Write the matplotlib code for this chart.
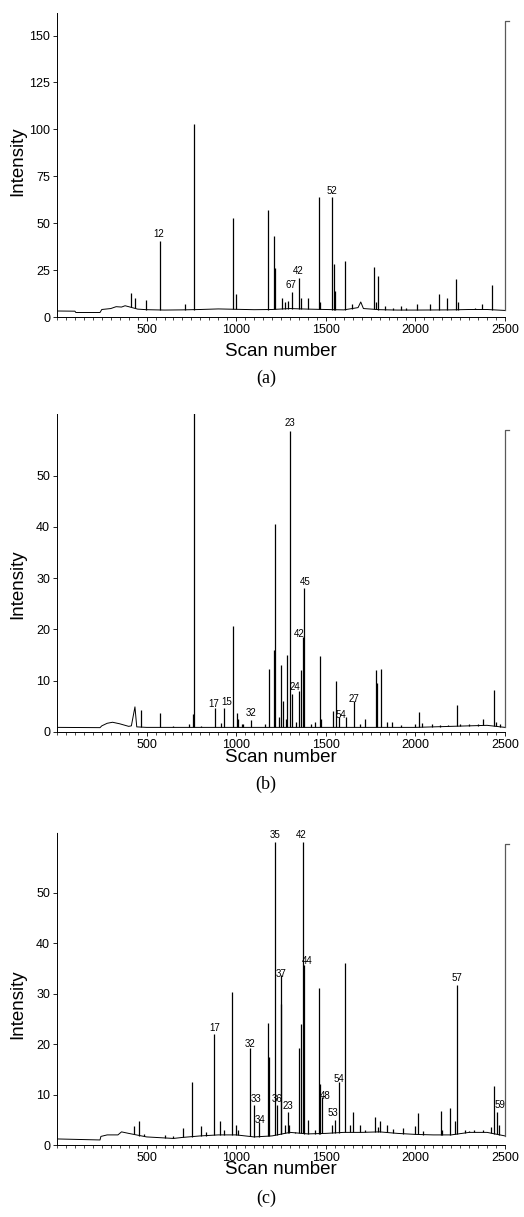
import numpy as np
import matplotlib
matplotlib.use('Agg')
import matplotlib.pyplot as plt
from matplotlib.ticker import MultipleLocator

plt.rcParams['font.family'] = ['Liberation Sans', 'DejaVu Sans']

# ---- panel (a) ----
base_a_x = [0, 100, 105, 240, 250, 300, 330, 360, 380, 400, 450, 500, 600, 700, 800, 900, 1000,
            1100, 1200, 1300, 1400, 1500, 1600, 1680, 1695, 1710, 1800, 1900, 2000, 2200, 2300, 2400, 2500]
base_a_y = [3.2, 3.1, 2.4, 2.4, 4.0, 4.5, 5.5, 5.3, 6.0, 5.5, 4.2, 3.9, 3.7, 3.8, 4.0, 4.3, 4.1,
            3.9, 4.0, 4.5, 4.2, 4.0, 3.8, 5.0, 8.0, 4.5, 3.9, 3.7, 3.7, 3.8, 4.0, 4.0, 3.5]
peak_a_x = [415, 437, 498, 576, 717, 763, 980, 998, 1180, 1213, 1215, 1255, 1275, 1290, 1309, 1350,
            1363, 1401, 1461, 1470, 1537, 1545, 1552, 1605, 1646, 1770, 1780, 1794, 1831, 1875, 1920,
            1950, 2007, 2082, 2130, 2175, 2224, 2240, 2330, 2370, 2426]
peak_a_h = [13, 10, 9, 40.5, 7, 103, 52.5, 12, 57, 43, 26, 10, 8, 8.5, 13.5, 21,
            10, 10, 64, 8, 64, 28, 14, 30, 7, 26.5, 8, 22, 6, 5, 6,
            5, 7, 7, 12, 10, 20, 8, 5, 7, 17]
lab_a = ['12', '67', '42', '52']
lab_a_x = [568, 1306, 1346, 1535]
lab_a_y = [44, 17, 24.6, 67]
yticks_a = [0, 25, 50, 75, 100, 125, 150]

# ---- panel (b) ----
base_b_x = [0, 240, 250, 280, 310, 350, 400, 415, 435, 445, 500, 1000, 1500, 2000, 2300, 2400, 2500]
base_b_y = [0.9, 0.85, 1.2, 1.7, 1.9, 1.6, 1.1, 1.2, 4.9, 1.0, 0.9, 0.9, 0.9, 0.9, 1.2, 1.3, 0.9]
peak_b_x = [467, 574, 645, 700, 735, 760, 766, 805, 879, 915, 934, 984, 1003, 1012, 1030, 1040,
            1082, 1160, 1184, 1210, 1219, 1240, 1252, 1262, 1280, 1285, 1300, 1313, 1335, 1353,
            1362, 1370, 1381, 1420, 1440, 1468, 1475, 1542, 1557, 1575, 1610, 1655, 1690, 1718,
            1780, 1785, 1806, 1843, 1870, 1920, 2000, 2018, 2037, 2090, 2140, 2180, 2234, 2250,
            2300, 2350, 2379, 2438, 2450, 2470]
peak_b_h = [4.3, 3.8, 1.2, 1.0, 1.5, 3.5, 75, 1.2, 4.6, 1.8, 4.6, 20.6, 3.7, 2.5, 1.5, 1.6,
            2.4, 1.5, 12.2, 16, 40.6, 3, 13, 6, 2.5, 15, 58.7, 7.5, 2, 8,
            12, 18.5, 28, 1.5, 2, 14.9, 2.5, 4, 10, 3, 3, 6, 1.5, 2.6,
            12, 9.5, 12.2, 2, 2, 1.3, 1.5, 3.9, 1.8, 1.5, 1.3, 1.4, 5.2, 1.6,
            1.5, 1.6, 2.5, 8.2, 2.0, 1.5]
lab_b = ['23', '45', '42', '24', '17', '15', '32', '54', '27']
lab_b_x = [1300, 1385, 1350, 1326, 872, 945, 1082, 1584, 1655]
lab_b_y = [60.2, 29.2, 19.2, 8.7, 5.4, 5.8, 3.7, 3.4, 6.4]
yticks_b = [0, 10, 20, 30, 40, 50]

# ---- panel (c) ----
base_c_x = [0, 240, 245, 280, 340, 360, 400, 500, 600, 650, 700, 800, 900, 1000, 1100, 1200, 1300,
            1400, 1500, 1600, 1700, 1800, 1900, 2000, 2100, 2200, 2300, 2400, 2500]
base_c_y = [1.2, 1.0, 1.7, 2.0, 2.0, 2.6, 2.3, 1.6, 1.4, 1.3, 1.5, 1.8, 2.0, 2.0, 1.6, 1.8, 2.5,
            2.2, 2.3, 2.5, 2.5, 2.6, 2.3, 2.1, 2.0, 2.0, 2.5, 2.5, 1.8]
peak_c_x = [427, 460, 488, 603, 645, 705, 755, 802, 830, 876, 909, 930, 978, 997, 1010, 1076,
            1098, 1128, 1179, 1183, 1214, 1226, 1248, 1252, 1270, 1289, 1296, 1330, 1351, 1362,
            1370, 1379, 1402, 1440, 1464, 1470, 1478, 1535, 1549, 1572, 1609, 1637, 1650, 1693,
            1720, 1777, 1790, 1805, 1841, 1873, 1929, 2000, 2017, 2040, 2142, 2150, 2192, 2220,
            2234, 2276, 2300, 2326, 2380, 2420, 2441, 2457, 2469]
peak_c_h = [3.8, 4.8, 2.2, 2.0, 1.8, 3.3, 12.4, 3.8, 2.5, 22, 4.7, 3, 30.3, 4, 3, 19.2,
            8, 4.5, 24.1, 17.5, 60, 8, 33.7, 28, 4, 6.5, 4, 2.5, 19.2, 24,
            60, 35.7, 5, 3, 31.1, 12, 9.5, 4, 5, 12.4, 36, 4, 6.5, 4,
            3, 5.6, 3.5, 4.8, 4, 3.2, 3.3, 3.7, 6.3, 2.8, 6.8, 3, 7.3, 4.8,
            31.7, 3, 2.8, 3, 3, 3.5, 11.7, 6.5, 4]
lab_c = ['35', '42', '37', '44', '57', '54', '48', '53', '33', '34', '36', '23', '59', '17', '32']
lab_c_x = [1216, 1364, 1250, 1394, 2234, 1575, 1495, 1538, 1109, 1131, 1226, 1289, 2472, 878, 1076]
lab_c_y = [61.4, 61.4, 33.8, 36.4, 33.0, 13.1, 9.7, 6.4, 9.1, 5.0, 9.1, 7.8, 7.9, 23.1, 20.1]
yticks_c = [0, 10, 20, 30, 40, 50]

xticks = [500, 1000, 1500, 2000, 2500]

W, H = 524, 1217
fig = plt.figure(figsize=(W / 100, H / 100), dpi=100)


def fx(x):
    return x / W


def fy(y):
    return 1 - y / H


def panel(rect, bx, by, px, ph, labs, lx, ly, ymax, yticks, marker_top, ylab_y, xlab_y, tag, tag_y):
    left, top, right, bottom = rect
    ax = fig.add_axes([fx(left), fy(bottom), fx(right - left), (bottom - top) / H])
    ax.plot(bx, by, color='black', lw=0.7)
    foot = np.interp(px, bx, by)
    ax.vlines(px, foot, ph, color='black', lw=0.9)
    # odd frame mark at the end of the run
    ax.plot([2500, 2500, 2525], [by[-1], marker_top, marker_top], color='0.35', lw=0.9, clip_on=False)
    for t, x, y in zip(labs, lx, ly):
        ax.text(x, y, t, ha='center', va='center', fontsize=7, clip_on=False)
    ax.set_xlim(0, 2500)
    ax.set_ylim(0, ymax)
    ax.set_xticks(xticks)
    ax.xaxis.set_minor_locator(MultipleLocator(50))
    ax.set_yticks(yticks)
    ax.tick_params(axis='both', labelsize=9, width=0.6, length=3, pad=2, direction='out')
    ax.tick_params(axis='x', which='minor', length=2, width=0.5)
    for s in ['top', 'right']:
        ax.spines[s].set_visible(False)
    ax.spines['left'].set_linewidth(0.7)
    ax.spines['left'].set_linestyle((0, (6, 1)))
    ax.spines['bottom'].set_linewidth(0.7)
    fig.text(fx(18), fy(ylab_y), 'Intensity', rotation=90, ha='center', va='center', fontsize=13.5)
    fig.text(fx(281), fy(xlab_y), 'Scan number', ha='center', va='center', fontsize=13.5)
    fig.text(fx(266), fy(tag_y), tag, ha='center', va='center', fontsize=13,
             family=['Liberation Serif', 'DejaVu Serif'])
    return ax


panel((57, 13, 505, 317), base_a_x, base_a_y, peak_a_x, peak_a_h, lab_a, lab_a_x, lab_a_y,
      162, yticks_a, 158, 161, 352, '(a)', 378)
panel((57, 414, 505, 732), base_b_x, base_b_y, peak_b_x, peak_b_h, lab_b, lab_b_x, lab_b_y,
      62, yticks_b, 58.8, 584, 757, '(b)', 784)
panel((57, 832, 505, 1145), base_c_x, base_c_y, peak_c_x, peak_c_h, lab_c, lab_c_x, lab_c_y,
      62, yticks_c, 59.7, 1004, 1170, '(c)', 1198)

fig.savefig('out.png', dpi=100)
